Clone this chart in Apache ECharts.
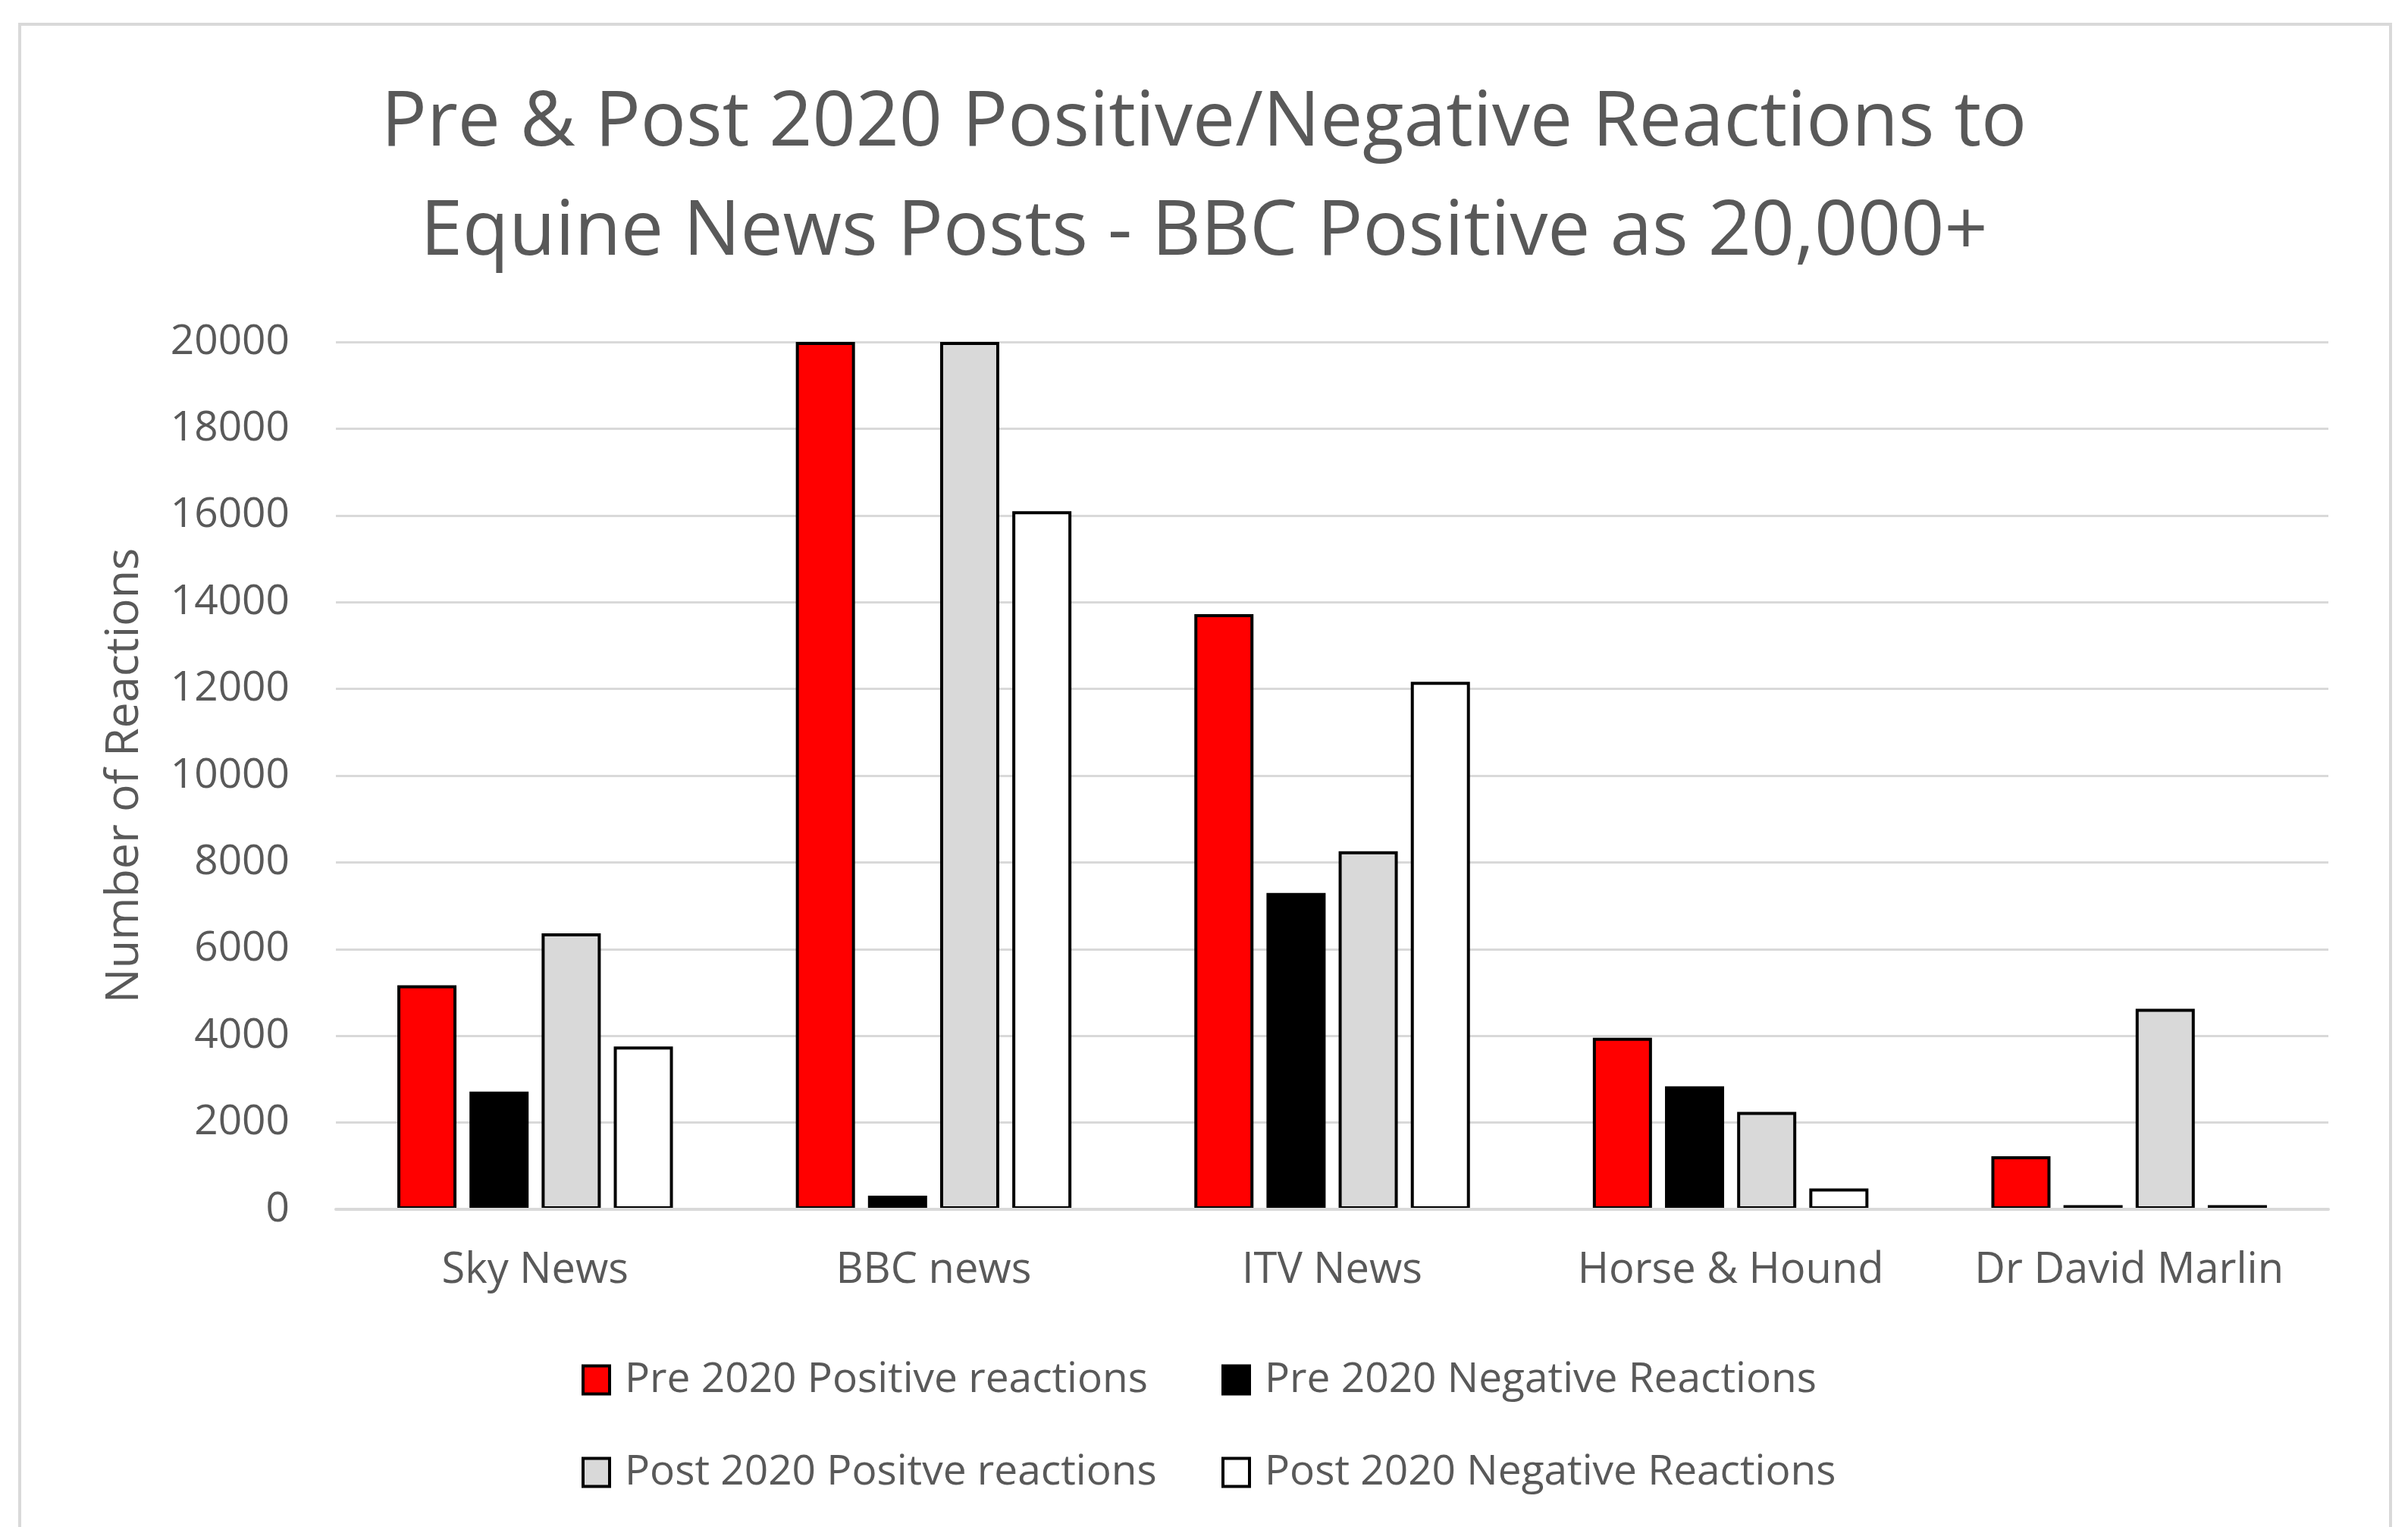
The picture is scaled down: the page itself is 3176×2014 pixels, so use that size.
<!DOCTYPE html>
<html>
<head>
<meta charset="utf-8">
<script src="https://cdn.jsdelivr.net/npm/echarts@6/dist/echarts.min.js"></script>
<style>
html,body{margin:0;padding:0;background:#fff;}
#chart{width:3176px;height:2014px;}
</style>
</head>
<body>
<div id="chart"></div>
<script>
const categories = ['Sky News', 'BBC news', 'ITV News', 'Horse & Hound', 'Dr David Marlin'];
const seriesNames = ['Pre 2020 Positive reactions', 'Pre 2020 Negative Reactions', 'Post 2020 Positve reactions', 'Post 2020 Negative Reactions'];
const prePositive = [5165, 20000, 13725, 3955, 1225];
const preNegative = [2715, 315, 7295, 2835, 95];
const postPositive = [6365, 20000, 8255, 2245, 4625];
const postNegative = [3755, 16095, 12165, 480, 95];
const yTicks = [0, 2000, 4000, 6000, 8000, 10000, 12000, 14000, 16000, 18000, 20000];
const titleLines = ['Pre & Post 2020 Positive/Negative Reactions to', 'Equine News Posts - BBC Positive as 20,000+'];
const yAxisName = 'Number of Reactions';

const FONT = '"Open Sans", sans-serif';
const TXT = '#595959';
const fills = ['#FF0000', '#000000', '#D9D9D9', '#FFFFFF'];
const values = [prePositive, preNegative, postPositive, postNegative];

const chart = echarts.init(document.getElementById('chart'), null, {renderer: 'canvas'});

const legendText = {
  fontFamily: FONT, fontSize: 55, color: TXT,
  width: 740, padding: [0, 0, 0, 15], lineHeight: 60
};

const option = {
  backgroundColor: '#ffffff',
  animation: false,
  graphic: [{
    type: 'rect', z: -10,
    shape: {x: 26, y: 32, width: 3127, height: 2100},
    style: {fill: 'none', stroke: '#D9D9D9', lineWidth: 4}
  }],
  title: titleLines.map((t, i) => ({
    text: t,
    left: 'center',
    top: 91 + i * 144,
    padding: 0,
    textStyle: {fontFamily: FONT, fontSize: 100, fontWeight: 'normal', color: TXT, lineHeight: 145}
  })),
  legend: [{
    data: seriesNames.slice(0, 2),
    left: 767, top: 1790, padding: 0,
    orient: 'horizontal', icon: 'rect',
    itemWidth: 35, itemHeight: 37, itemGap: 47,
    itemStyle: {borderColor: '#000', borderWidth: 4},
    textStyle: legendText
  }, {
    data: seriesNames.slice(2, 4),
    left: 767, top: 1912, padding: 0,
    orient: 'horizontal', icon: 'rect',
    itemWidth: 35, itemHeight: 37, itemGap: 47,
    itemStyle: {borderColor: '#000', borderWidth: 4},
    textStyle: legendText
  }],
  grid: {left: 443, right: 105, top: 451, bottom: 419, containLabel: false},
  xAxis: {
    type: 'category',
    data: categories,
    z: 3,
    axisTick: {show: false},
    axisLine: {lineStyle: {color: '#D9D9D9', width: 4}},
    axisLabel: {fontFamily: FONT, fontSize: 56, color: TXT, margin: 53, interval: 0}
  },
  yAxis: {
    type: 'value',
    min: yTicks[0], max: yTicks[yTicks.length - 1], interval: yTicks[1] - yTicks[0],
    name: yAxisName,
    nameLocation: 'middle',
    nameRotate: 90,
    nameGap: 248,
    nameTextStyle: {fontFamily: FONT, fontSize: 61, color: TXT},
    axisLine: {show: false},
    axisTick: {show: false},
    splitLine: {lineStyle: {color: '#D9D9D9', width: 3}},
    axisLabel: {fontFamily: FONT, fontSize: 55, color: TXT, margin: 61, formatter: v => String(v)}
  },
  series: seriesNames.map((name, i) => ({
    name: name,
    type: 'bar',
    data: values[i],
    barWidth: 78,
    barGap: '22%',
    itemStyle: {color: fills[i], borderColor: '#000000', borderWidth: 4}
  }))
};
chart.setOption(option);
</script>
</body>
</html>
